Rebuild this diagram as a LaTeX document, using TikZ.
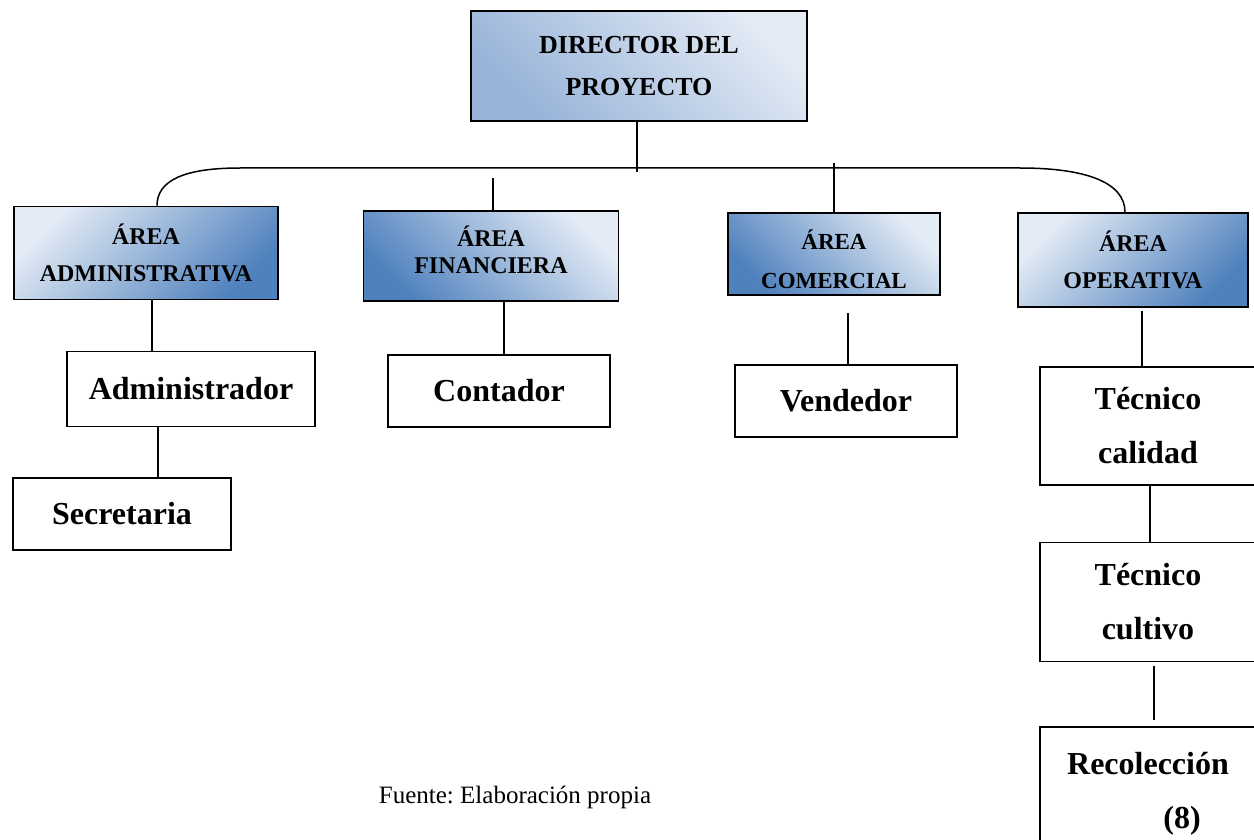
\documentclass[tikz,border=0pt]{standalone}
\usepackage{fontspec}
\setmainfont{Liberation Serif}
\usetikzlibrary{positioning}
\frenchspacing

\definecolor{blueL}{HTML}{E3EBF5}
\definecolor{blueM}{HTML}{97B3D8}
\definecolor{blueD}{HTML}{4F81BD}

\begin{document}
\begin{tikzpicture}[x=1pt,y=-1pt,line width=1.5pt,
  dir node/.style={draw,line width=1.6pt,align=center,minimum width=336pt,minimum height=110pt,
    top color=blueL,bottom color=blueM,shading angle=-45,font=\bfseries\fontsize{26}{42}\selectfont},
  area node/.style={draw,line width=1.6pt,align=center,font=\bfseries\fontsize{24}{37}\selectfont},
  down dark/.style={top color=blueL,bottom color=blueD,shading angle=45},
  left dark/.style={top color=blueL,bottom color=blueD,shading angle=-45},
  job node/.style={draw,line width=1.6pt,fill=white,align=center,font=\bfseries\fontsize{32}{54}\selectfont}]

  \useasboundingbox (0,0) rectangle (1254,840);
  \clip (0,0) rectangle (1254,840);

  % top
  \node[dir node] (dir) at (639,66) {DIRECTOR DEL\\PROYECTO};

  % areas
  \node[area node,down dark,minimum width=264pt,minimum height=93pt] (adm) at (146,253) {ÁREA\\ADMINISTRATIVA};
  \node[area node,left dark,minimum width=255pt,minimum height=90pt] (fin) at (491,256) {ÁREA\\[-10pt]FINANCIERA\\[-25pt]\mbox{}};
  \node[area node,left dark,minimum width=212pt,minimum height=82pt,font=\bfseries\fontsize{23}{39}\selectfont] (com) at (834,254) {\rule{0pt}{31pt}ÁREA\\COMERCIAL};
  \node[area node,down dark,minimum width=230pt,minimum height=94pt] (ope) at (1133,260) {ÁREA\\OPERATIVA};

  % jobs
  \node[job node,minimum width=248pt,minimum height=75pt] (admr) at (191,389) {Administrador};
  \node[job node,minimum width=218pt,minimum height=72pt] (sec) at (122,514) {Secretaria};
  \node[job node,minimum width=222pt,minimum height=72pt] (cont) at (499,391) {Contador};
  \node[job node,minimum width=222pt,minimum height=72pt] (vend) at (846,401) {Vendedor};
  \node[job node,minimum width=216pt,minimum height=118pt] (tcal) at (1148,426) {Técnico\\calidad};
  \node[job node,minimum width=216pt,minimum height=119pt] (tcul) at (1148,602) {Técnico\\cultivo};
  \node[job node,minimum width=216pt,minimum height=134pt,anchor=north] (rec) at (1148,726) {Recolección\\\hspace*{68pt}(8)};

  \node[font=\fontsize{25}{30}\selectfont] (src) at (515,797) {Fuente: Elaboración propia};

  % bus line
  \coordinate (busL) at (240,168);
  \coordinate (busR) at (1020,168);
  \draw (adm.north -| 157,0) .. controls (157,180) and (185,168) .. (busL)
    -- (busR) .. controls (1085,168) and (1125,182) .. (ope.north -| 1125,0);

  \draw (dir.south -| 637,0) -- (637,172);
  \coordinate (finTop) at (493,178);
  \draw (finTop) -- (fin.north -| finTop);
  \coordinate (comTop) at (834,163);
  \draw (comTop) -- (com.north -| comTop);

  \draw (adm.south -| 152,0) -- (admr.north -| 152,0);
  \draw (admr.south -| 158,0) -- (sec.north -| 158,0);
  \draw (fin.south -| 504,0) -- (cont.north -| 504,0);
  \coordinate (comBot) at (848,313);
  \draw (comBot) -- (vend.north -| comBot);
  \coordinate (opeBot) at (1142,311);
  \draw (opeBot) -- (tcal.north -| opeBot);
  \draw (tcal.south -| 1150,0) -- (tcul.north -| 1150,0);
  \coordinate (culBot) at (1154,666);
  \coordinate (recTop) at (1154,720);
  \draw (culBot) -- (recTop);

\end{tikzpicture}
\end{document}
